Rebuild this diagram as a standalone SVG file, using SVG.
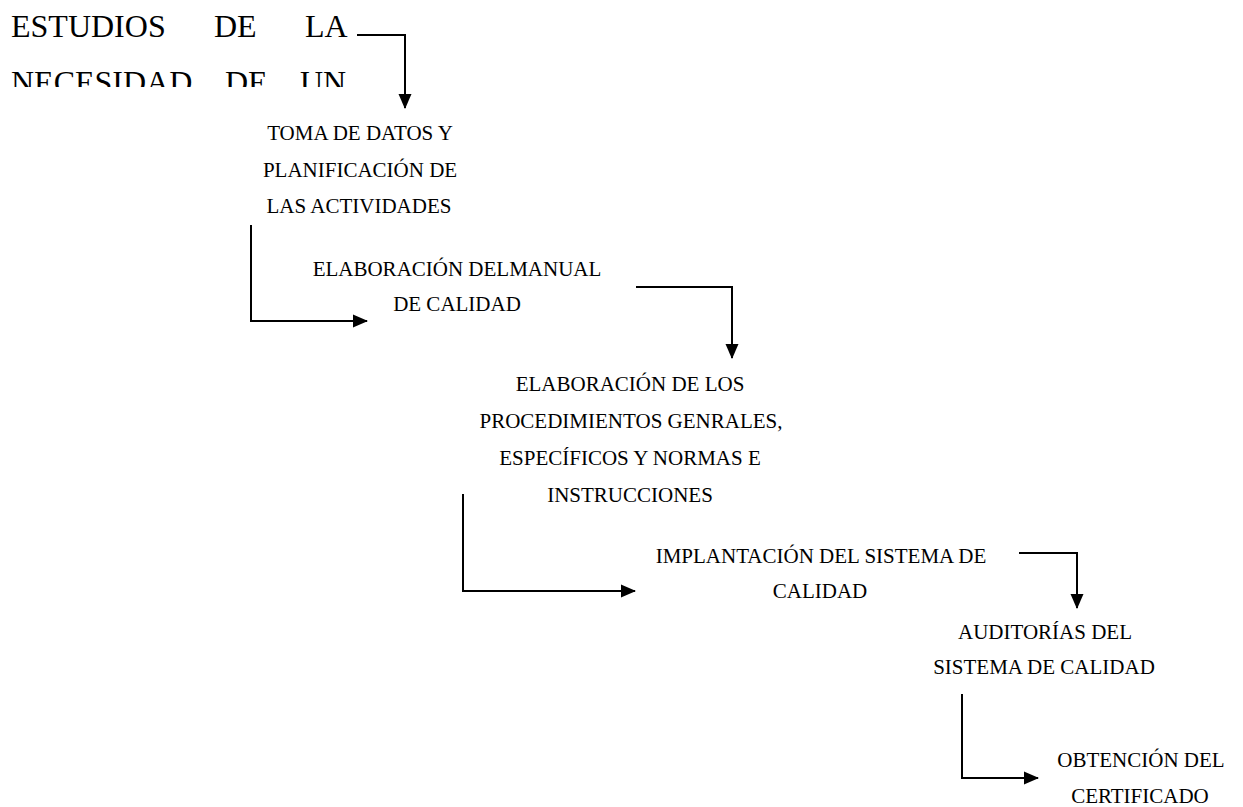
<svg xmlns="http://www.w3.org/2000/svg" width="1243" height="807" viewBox="0 0 1243 807">
<style>
.t{font-family:"Times New Roman","Liberation Serif","DejaVu Serif",serif;font-size:21px;fill:#000;text-anchor:middle}
.big{font-family:"Times New Roman","Liberation Serif","DejaVu Serif",serif;font-size:32px;fill:#000}
.c{fill:none;stroke:#000;stroke-width:2}
</style>
<defs>
<marker id="ah" markerUnits="userSpaceOnUse" markerWidth="15" markerHeight="15" viewBox="0 0 15 15" refX="14" refY="7.5" orient="auto">
<path d="M0,1 L15,7.5 L0,14 Z" fill="#000"/>
</marker>
<clipPath id="clip1"><rect x="0" y="0" width="400" height="87"/></clipPath>
</defs>
<rect width="1243" height="807" fill="#fff"/>
<g id="n1" clip-path="url(#clip1)">
<text class="big" x="11" y="37">ESTUDIOS</text>
<text class="big" x="214" y="37">DE</text>
<text class="big" x="305" y="37">LA</text>
<text class="big" x="11" y="93">NECESIDAD</text>
<text class="big" x="225" y="93">DE</text>
<text class="big" x="300" y="93">UN</text>
</g>
<g id="n2">
<text class="t" x="360" y="140">TOMA DE DATOS Y</text>
<text class="t" x="360" y="177">PLANIFICACIÓN DE</text>
<text class="t" x="359" y="213">LAS ACTIVIDADES</text>
</g>
<g id="n3">
<text class="t" x="457" y="276">ELABORACIÓN DELMANUAL</text>
<text class="t" x="457" y="311">DE CALIDAD</text>
</g>
<g id="n4">
<text class="t" x="630" y="391">ELABORACIÓN DE LOS</text>
<text class="t" x="631" y="428">PROCEDIMIENTOS GENRALES,</text>
<text class="t" x="630" y="465">ESPECÍFICOS Y NORMAS E</text>
<text class="t" x="630" y="502">INSTRUCCIONES</text>
</g>
<g id="n5">
<text class="t" x="821" y="563">IMPLANTACIÓN DEL SISTEMA DE</text>
<text class="t" x="820" y="598">CALIDAD</text>
</g>
<g id="n6">
<text class="t" x="1045" y="639">AUDITORÍAS DEL</text>
<text class="t" x="1044" y="674">SISTEMA DE CALIDAD</text>
</g>
<g id="n7">
<text class="t" x="1141" y="767">OBTENCIÓN DEL</text>
<text class="t" x="1140" y="803">CERTIFICADO</text>
</g>
<g id="connectors">
<path class="c" d="M357,35 H405 V108" marker-end="url(#ah)"/>
<path class="c" d="M251,225 V321 H367" marker-end="url(#ah)"/>
<path class="c" d="M636,287 H732 V358" marker-end="url(#ah)"/>
<path class="c" d="M463,494 V591 H635" marker-end="url(#ah)"/>
<path class="c" d="M1019,553 H1077 V608" marker-end="url(#ah)"/>
<path class="c" d="M962,694 V778 H1038" marker-end="url(#ah)"/>
</g>
</svg>
